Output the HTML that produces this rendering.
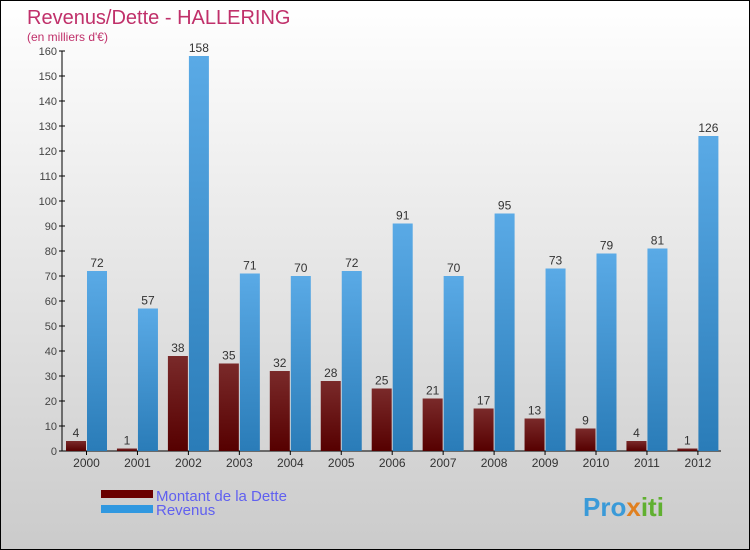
<!DOCTYPE html>
<html><head><meta charset="utf-8"><style>
body{margin:0}
#c{position:relative;width:750px;height:550px;box-sizing:border-box;border:1px solid #000;background:linear-gradient(#fff,#cbcbcb);font-family:"Liberation Sans",sans-serif;overflow:hidden}
</style></head><body>
<div id="c">
<svg width="750" height="550" id="s">
<defs>
<linearGradient id="gd" x1="0" y1="0" x2="0" y2="1"><stop offset="0" stop-color="#7a2a2a"/><stop offset="1" stop-color="#560000"/></linearGradient>
<linearGradient id="gr" x1="0" y1="0" x2="0" y2="1"><stop offset="0" stop-color="#5aaae6"/><stop offset="1" stop-color="#2a7cb8"/></linearGradient>
</defs>
<text x="26" y="23" font-size="20" fill="#c0306a">Revenus/Dette - HALLERING</text>
<text x="26" y="40" font-size="12" fill="#c0306a">(en milliers d'€)</text>
<g id="ax"></g><g id="bars"></g>
<rect x="100" y="489" width="52" height="8" fill="#6a0000"/>
<rect x="100" y="504" width="52" height="8" fill="#3098e0"/>
<text x="155" y="500" font-size="15" fill="#6060f0">Montant de la Dette</text>
<text x="155" y="514" font-size="15" fill="#6060f0">Revenus</text>
<text x="582" y="515" font-size="26" font-weight="bold" fill="#3a9ad8">Pro<tspan fill="#e08020">x</tspan><tspan fill="#60b030">iti</tspan></text>
</svg></div>
<script>
const years=["2000","2001","2002","2003","2004","2005","2006","2007","2008","2009","2010","2011","2012"];
const dette=[4,1,38,35,32,28,25,21,17,13,9,4,1];
const revenus=[72,57,158,71,70,72,91,70,95,73,79,81,126];
const yTicks=[0,10,20,30,40,50,60,70,80,90,100,110,120,130,140,150,160];
const NS="http://www.w3.org/2000/svg";
const y=v=>450-v*2.5, x=i=>85.5+i*50.95;
function mk(t,a,p){const e=document.createElementNS(NS,t);for(const k in a)e.setAttribute(k,a[k]);p.appendChild(e);return e;}
const ax=document.getElementById('ax'),bars=document.getElementById('bars');
let l=mk('line',{x1:61,y1:y(160),x2:61,y2:450,stroke:'#000'},ax);


l=mk('line',{x1:58,y1:450,x2:720,y2:450,stroke:'#000'},ax);


yTicks.forEach(v=>{
 mk('line',{x1:58,y1:y(v),x2:64,y2:y(v),stroke:'#000'},ax);
 const t=mk('text',{x:56,y:y(v)+4,'text-anchor':'end','font-size':11,fill:'#444'},ax);t.textContent=v;
 
 
});
years.forEach((yr,i)=>{
 const cx=x(i);
 mk('line',{x1:cx,y1:450,x2:cx,y2:454,stroke:'#000'},ax);
 const t=mk('text',{x:cx,y:466,'text-anchor':'middle','font-size':12,fill:'#333'},ax);t.textContent=yr;
 
 
 const d=mk('rect',{x:cx-20.5,y:y(dette[i]),width:20,height:450-y(dette[i]),fill:'url(#gd)'},bars);
 
 
 const r=mk('rect',{x:cx+0.5,y:y(revenus[i]),width:20,height:450-y(revenus[i]),fill:'url(#gr)'},bars);
 
 
 const dl=mk('text',{x:cx-10.5,y:y(dette[i])-4,'text-anchor':'middle','font-size':12,fill:'#333'},bars);dl.textContent=dette[i];
 
 
 const rl=mk('text',{x:cx+10.5,y:y(revenus[i])-4,'text-anchor':'middle','font-size':12,fill:'#333'},bars);rl.textContent=revenus[i];
 
 
});
</script>
</body></html>
